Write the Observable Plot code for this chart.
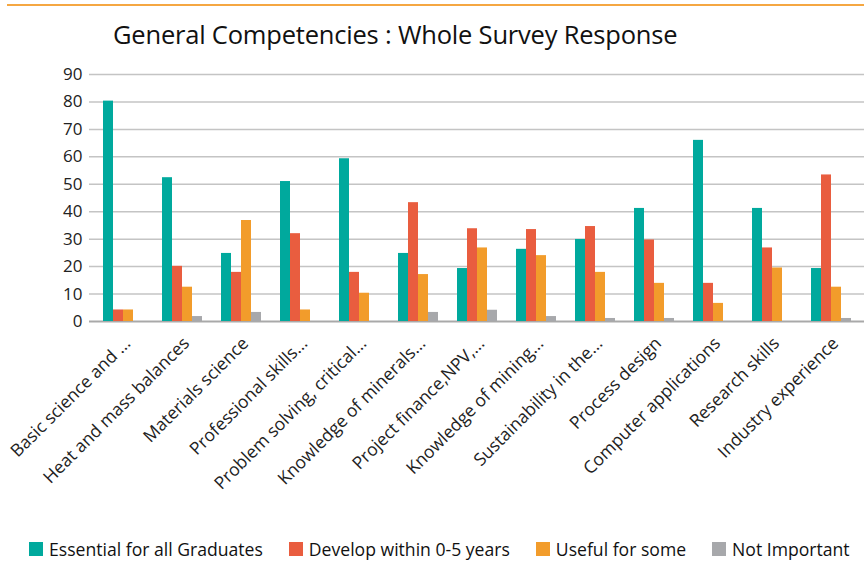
<!DOCTYPE html>
<html>
<head>
<meta charset="utf-8">
<script src="https://cdn.jsdelivr.net/npm/d3@7"></script>
<script src="https://cdn.jsdelivr.net/npm/@observablehq/plot@0.6"></script>
<style>
  html, body { margin: 0; padding: 0; background: #fff; }
  body { width: 864px; height: 578px; position: relative; overflow: hidden; font-family: "Open Sans", "Noto Sans", sans-serif; }
  #topline { position: absolute; left: 7px; right: 0; top: 4px; height: 2px; background: #f5a742; }
  #title { position: absolute; left: 113px; top: 17px; font-size: 25.5px; color: #111; white-space: nowrap; letter-spacing: -0.2px; }
  #grid, #chart { position: absolute; left: 0; top: 60px; }
  #legend { position: absolute; left: 29px; top: 537px; display: flex; font-size: 17.6px; color: #111; white-space: nowrap; }
  .item { display: flex; align-items: center; margin-right: 26px; }
  .sw { width: 14px; height: 14px; margin-right: 6px; }
</style>
</head>
<body>
<div id="topline"></div>
<div id="title">General Competencies : Whole Survey Response</div>
<div id="grid"></div>
<div id="chart"></div>
<div id="legend"></div>
<script>
const categories = [
  "Basic science and ...",
  "Heat and mass balances",
  "Materials science",
  "Professional skills...",
  "Problem solving, critical...",
  "Knowledge of minerals...",
  "Project finance,NPV,...",
  "Knowledge of mining...",
  "Sustainability in the...",
  "Process design",
  "Computer applications",
  "Research skills",
  "Industry experience"
];
const seriesNames = ["Essential for all Graduates", "Develop within 0-5 years", "Useful for some", "Not Important"];
const colors = ["#00a99d", "#e95d3f", "#f29c2b", "#a7a8ab"];
const essential = [80.3, 52.4, 24.8, 51.0, 59.3, 24.8, 19.3, 26.3, 29.9, 41.2, 66.0, 41.2, 19.3];
const develop   = [4.2, 20.1, 17.9, 32.0, 17.9, 43.3, 33.8, 33.5, 34.6, 29.7, 13.9, 26.8, 53.4];
const useful    = [4.2, 12.5, 36.8, 4.2, 10.3, 17.1, 26.8, 24.0, 17.9, 13.9, 6.6, 19.5, 12.5];
const notImp    = [0, 1.8, 3.3, 0, 0, 3.3, 4.1, 1.8, 1.1, 1.1, 0, 0, 1.1];
const yTicks = [0, 10, 20, 30, 40, 50, 60, 70, 80, 90];

const allSeries = [essential, develop, useful, notImp];
const data = [];
categories.forEach((c, i) => {
  seriesNames.forEach((s, j) => data.push({category: c, series: s, value: allSeries[j][i]}));
});

const common = {
  width: 864,
  height: 470,
  marginLeft: 89,
  marginRight: 0,
  marginTop: 14,
  marginBottom: 209,
  style: {fontFamily: "'Open Sans', 'Noto Sans', sans-serif", fontSize: "16px", color: "#222", background: "transparent"},
  y: {domain: [0, 90], ticks: yTicks, label: null}
};

// Background: continuous gridlines across the full plot width
const grid = Plot.plot({
  ...common,
  x: {axis: null},
  marks: [
    Plot.ruleY(yTicks.filter(d => d > 0), {stroke: "#c4c4c4", strokeWidth: 1.5}),
    Plot.ruleY([0], {stroke: "#a9a9a9", strokeWidth: 2}),
    Plot.axisY({ticks: yTicks, tickSize: 0, tickPadding: 7, fontSize: 17, label: null})
  ]
});
document.getElementById("grid").appendChild(grid);

const plot = Plot.plot({
  ...common,
  fx: {domain: categories, paddingInner: 0.33, paddingOuter: 0.17, label: null},
  x: {domain: seriesNames, padding: 0, axis: null},
  color: {domain: seriesNames, range: colors},
  marks: [
    Plot.barY(data, {fx: "category", x: "series", y: "value", fill: "series", inset: 0}),
    Plot.axisY({ticks: [], tickSize: 0, label: null}),
    Plot.axisFx({anchor: "bottom", tickRotate: -45, tickSize: 0, tickPadding: 19, dx: 4, fontSize: 17.5, label: null})
  ]
});
document.getElementById("chart").appendChild(plot);

const legend = document.getElementById("legend");
seriesNames.forEach((s, j) => {
  const item = document.createElement("div");
  item.className = "item";
  const sw = document.createElement("div");
  sw.className = "sw";
  sw.style.background = colors[j];
  const t = document.createElement("span");
  t.textContent = s;
  item.appendChild(sw);
  item.appendChild(t);
  legend.appendChild(item);
});
</script>
</body>
</html>
